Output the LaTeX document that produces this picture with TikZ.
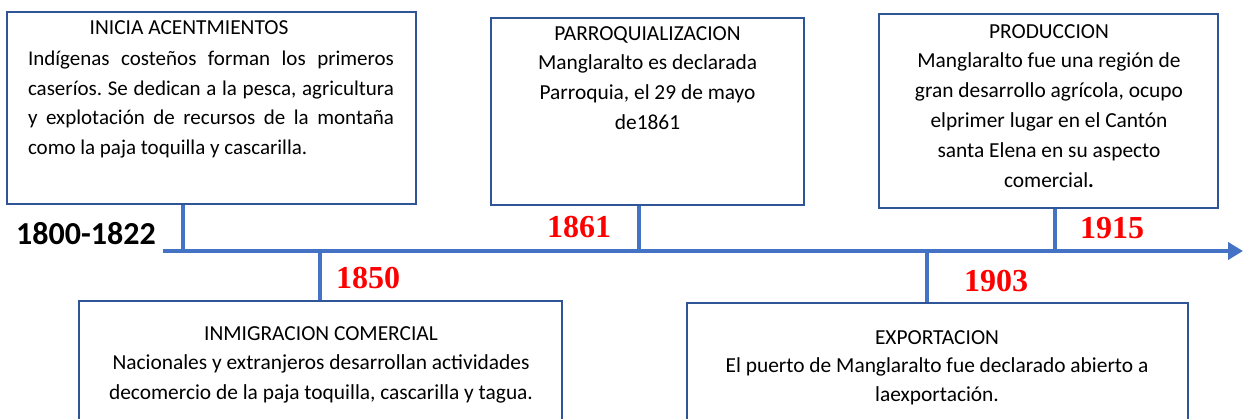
\documentclass[tikz,border=0pt]{standalone}
\usepackage{fontspec}
\setmainfont{Carlito}
\newfontfamily\yearfont{Liberation Serif}
\usepackage{tikz}
\usetikzlibrary{arrows.meta,positioning,calc}

\definecolor{boxblue}{HTML}{2F5597}
\definecolor{lineblue}{HTML}{4472C4}
\frenchspacing

\begin{document}
\begin{tikzpicture}[x=1pt,y=-1pt,
  event/.style={draw=boxblue,line width=2.5pt,inner sep=0pt},
  txt/.style={anchor=north,inner sep=0pt,align=center,font=\fontsize{21.4}{29.8}\selectfont},
  year/.style={inner sep=0pt,text=red,font=\yearfont\bfseries\fontsize{32}{36}\selectfont},
  start/.style={inner sep=0pt,font=\bfseries\fontsize{32}{36}\selectfont},
  axis/.style={draw=lineblue,line width=4pt,-{Triangle[length=15pt,width=17pt]}},
  tick/.style={draw=lineblue,line width=4pt}]

  \useasboundingbox (0,0) rectangle (1246,419);
  \clip (0,0) rectangle (1246,419);

  % boxes above and below the line
  \node[event,minimum width=409pt,minimum height=192pt] (ini) at (211.5,108) {};
  \node[event,minimum width=313pt,minimum height=187pt] (par) at (647.5,111.5) {};
  \node[event,minimum width=339pt,minimum height=194pt] (pro) at (1048.5,111) {};
  \node[event,minimum width=483pt,minimum height=160pt] (inm) at (320.5,381) {};
  \node[event,minimum width=501pt,minimum height=160pt] (exp) at (937.5,383) {};

  % texts
  \node[txt] (iniH) at (189,20) {INICIA ACENTMIENTOS};
  \node[txt,align=justify,text width=366pt,font=\fontsize{21}{29.5}\selectfont] (iniT) at (211,51)
    {Indígenas costeños forman los primeros\linebreak
     caseríos. Se dedican a la pesca, agricultura\linebreak
     y explotación de recursos de la montaña\linebreak
     como la paja toquilla y cascarilla.};
  \node[txt] (parT) at (647.5,26)
    {PARROQUIALIZACION\\Manglaralto es declarada\\Parroquia, el 29 de mayo\\de1861};
  \node[txt] (proT) at (1049,24)
    {PRODUCCION\\Manglaralto fue una región de\\gran desarrollo agrícola, ocupo\\elprimer lugar en el Cantón\\santa Elena en su aspecto\\comercial\textbf{.}};
  \node[txt] (inmT) at (321,326)
    {INMIGRACION COMERCIAL\\Nacionales y extranjeros desarrollan actividades\\decomercio de la paja toquilla, cascarilla y tagua.};
  \node[txt,font=\fontsize{21.4}{28.5}\selectfont] (expT) at (937,330)
    {EXPORTACION\\El puerto de Manglaralto fue declarado abierto a\\laexportación.};

  % time line
  \coordinate (t0) at (163,251);
  \coordinate (t1) at (1243,251);
  \coordinate (t1800) at (183,251);
  \coordinate (t1850) at (320,251);
  \coordinate (t1861) at (639,251);
  \coordinate (t1903) at (927,251);
  \coordinate (t1915) at (1055,251);

  \draw[tick] (ini.south -| t1800) -- (t1800);
  \draw[tick] (par.south -| t1861) -- (t1861);
  \draw[tick] (pro.south -| t1915) -- (t1915);
  \draw[tick] (t1850) -- (inm.north -| t1850);
  \draw[tick] (t1903) -- (exp.north -| t1903);
  \draw[axis] (t0) -- (t1);

  % years
  \node[start] (y1800) at (86,234) {1800-1822};
  \node[year] (y1861) at (579,227) {1861};
  \node[year] (y1915) at (1112,228) {1915};
  \node[year] (y1850) at (368,278) {1850};
  \node[year] (y1903) at (996,281) {1903};
\end{tikzpicture}
\end{document}
